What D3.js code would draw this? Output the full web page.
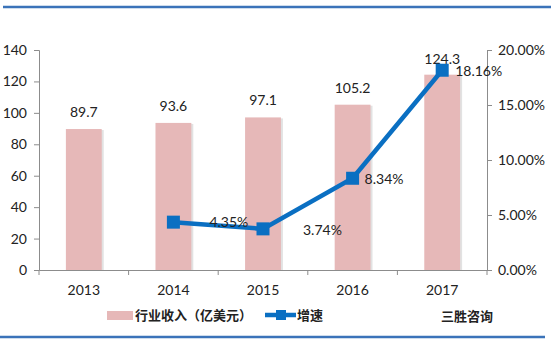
<!DOCTYPE html>
<html><head><meta charset="utf-8">
<script src="https://cdn.jsdelivr.net/npm/d3@7"></script>
<style>body{margin:0;background:#fff;} svg{display:block;}</style>
</head><body>
<script>
const years = ["2013","2014","2015","2016","2017"];
const revenue = [89.7, 93.6, 97.1, 105.2, 124.3];
const growth = [null, 4.35, 3.74, 8.34, 18.16];
const leftTicks = [0,20,40,60,80,100,120,140];
const rightTicks = [0,5,10,15,20];

const W=551,H=343;
const svg=d3.select("body").append("svg").attr("width",W).attr("height",H);
const numFont="Lato, 'Liberation Sans', sans-serif";
const cjk="'Noto Sans CJK SC', sans-serif";

const x=d3.scaleBand().domain(years).range([39,487]).paddingInner(0.6).paddingOuter(0.3);
const xb=d3.scaleBand().domain(years).range([39,487]);
const yL=d3.scaleLinear().domain([0,140]).range([270,50]);
const yR=d3.scaleLinear().domain([0,20]).range([270,50]);

// frame lines
svg.append("line").attr("x1",3).attr("x2",551).attr("y1",7).attr("y2",7).attr("stroke","#3b73b9").attr("stroke-width",2.5);
svg.append("line").attr("x1",0).attr("x2",545).attr("y1",337).attr("y2",337).attr("stroke","#3b73b9").attr("stroke-width",2.5);

// bar shadows + bars
svg.selectAll("rect.sh").data(years).join("rect").attr("class","sh")
  .attr("x",d=>x(d)+2).attr("y",(d,i)=>yL(revenue[i])+1).attr("width",x.bandwidth()).attr("height",(d,i)=>270-yL(revenue[i])-1)
  .attr("fill","#e2e2e2");
svg.selectAll("rect.bar").data(years).join("rect").attr("class","bar")
  .attr("x",d=>x(d)).attr("y",(d,i)=>yL(revenue[i])).attr("width",x.bandwidth()).attr("height",(d,i)=>270-yL(revenue[i]))
  .attr("fill","#e6b8b8");

// axes
const axL=svg.append("g").attr("transform","translate(39,0)").call(d3.axisLeft(yL).tickValues(leftTicks).tickSize(5).tickPadding(7));
const axR=svg.append("g").attr("transform","translate(487,0)").call(d3.axisRight(yR).tickValues(rightTicks).tickSize(5).tickPadding(6).tickFormat(d=>d.toFixed(2)+"%"));
const axX=svg.append("g").attr("transform","translate(0,270)").call(d3.axisBottom(xb).tickSize(0).tickPadding(15));
axX.append("g").selectAll("line").data(years.concat(["end"])).join("line")
  .attr("x1",(d,i)=>39+i*xb.bandwidth()).attr("x2",(d,i)=>39+i*xb.bandwidth()).attr("y1",0).attr("y2",5).attr("stroke","#8c8c8c");
[axL,axR,axX].forEach(g=>{
  g.selectAll("path.domain").attr("stroke","#8c8c8c");
  g.selectAll(".tick line").attr("stroke","#8c8c8c");
  g.selectAll("text").attr("font-family",numFont).attr("font-size",14).attr("fill","#222");
});

// bar labels
svg.selectAll("text.bl").data(years).join("text").attr("class","bl")
  .attr("x",d=>x(d)+x.bandwidth()/2+(d==="2017"?0:0)).attr("y",(d,i)=>yL(revenue[i])-(d==="2017"?11:12))
  .attr("text-anchor","middle").attr("font-family",numFont).attr("font-size",14).attr("fill","#222")
  .text((d,i)=>revenue[i].toFixed(1));

// line
const pts=years.map((d,i)=>({d,v:growth[i]})).filter(p=>p.v!==null);
const cx=d=>xb(d)+xb.bandwidth()/2;
svg.append("path").datum(pts).attr("fill","none").attr("stroke","#0a6fc2").attr("stroke-width",4.5)
  .attr("d",d3.line().x(p=>cx(p.d)).y(p=>yR(p.v)));
svg.selectAll("rect.mk").data(pts).join("rect").attr("class","mk")
  .attr("x",p=>cx(p.d)-6.5).attr("y",p=>yR(p.v)-6.5).attr("width",13).attr("height",13).attr("fill","#0a6fc2");
const gOff={"2014":[36,5],"2015":[40,6],"2016":[12,6],"2017":[13,6]};
svg.selectAll("text.gl").data(pts).join("text").attr("class","gl")
  .attr("x",p=>cx(p.d)+gOff[p.d][0]).attr("y",p=>yR(p.v)+gOff[p.d][1])
  .attr("text-anchor",p=>(p.d==="2014"||p.d==="2015")?"start":"start")
  .attr("font-family",numFont).attr("font-size",14).attr("fill","#222")
  .text(p=>p.v.toFixed(2)+"%");

// legend
const lg=svg.append("g");
lg.append("rect").attr("x",107).attr("y",311).attr("width",26).attr("height",9).attr("fill","#e6b8b8");
lg.append("text").attr("x",135).attr("y",320).attr("font-family",cjk).attr("font-weight","bold").attr("font-size",13).attr("fill","#222").text("行业收入（亿美元）");
lg.append("line").attr("x1",265).attr("x2",296).attr("y1",315).attr("y2",315).attr("stroke","#0a6fc2").attr("stroke-width",4.5);
lg.append("rect").attr("x",276).attr("y",310).attr("width",10).attr("height",10).attr("fill","#0a6fc2");
lg.append("text").attr("x",297).attr("y",320).attr("font-family",cjk).attr("font-weight","bold").attr("font-size",13).attr("fill","#222").text("增速");
lg.append("text").attr("x",441).attr("y",321).attr("font-family",cjk).attr("font-weight","bold").attr("font-size",13).attr("fill","#222").text("三胜咨询");
</script>
</body></html>
